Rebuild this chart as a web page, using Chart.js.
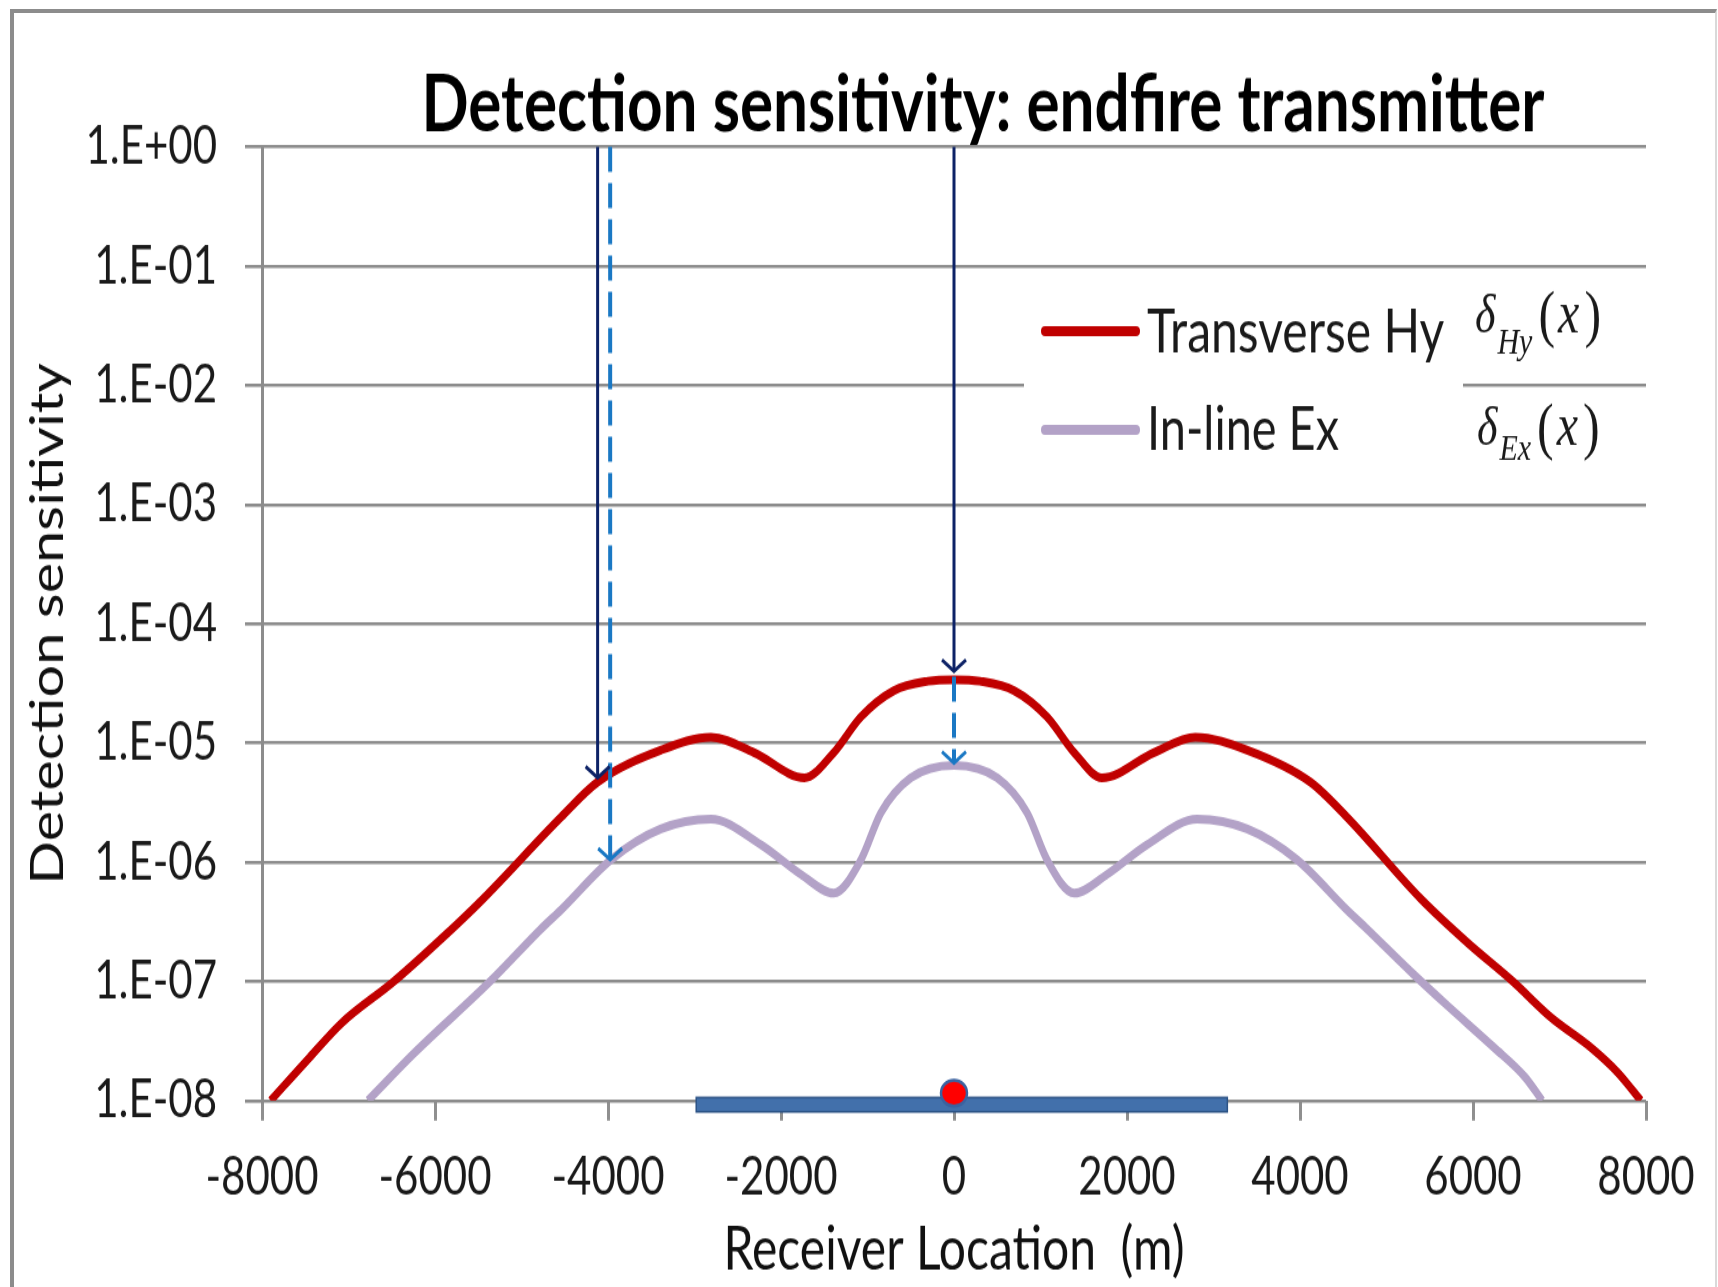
<!DOCTYPE html>
<html>
<head>
<meta charset="utf-8">
<script src="https://cdn.jsdelivr.net/npm/chart.js@4.4.1/dist/chart.umd.min.js"></script>
<style>
  html, body { margin: 0; padding: 0; background: #fff; }
  #wrap { position: relative; width: 1718px; height: 1287px; overflow: hidden; }
  #frame { position: absolute; left: 10px; top: 9px; width: 1707px; height: 1400px; box-sizing: border-box;
           border-top: 4px solid #8c8c8c; border-left: 4px solid #8c8c8c; border-right: 2px solid #d9d9d9; pointer-events: none; }
</style>
</head>
<body>
<div id="wrap">
  <!-- the source picture is stretched vertically, so the canvas is drawn short and shown tall -->
  <canvas id="myChart" width="1718" height="1030" style="display:block;width:1718px;height:1287px"></canvas>
  <div id="frame"></div>
</div>
<script>
var titleText = 'Detection sensitivity: endfire transmitter';
var xAxisTitle = 'Receiver Location  (m)';
var yAxisTitle = 'Detection sensitivity';
var hyLabel = 'Transverse Hy';
var exLabel = 'In-line Ex';

// receiver location (m) and sensitivity
var hyX = [-7900, -7450, -7075, -6475, -5920, -5460, -4540, -4120, -3390, -2810, -2310, -1730, -1390, -1075, -695, -300, 0,
           300, 695, 1075, 1390, 1710, 2310, 2790, 3390, 4120, 4540, 5400, 5940, 6460, 6900, 7360, 7680, 7940];
var hyY = [1.0e-8, 2.3e-8, 4.5e-8, 1.0e-7, 2.3e-7, 4.8e-7, 2.4e-6, 4.7e-6, 8.7e-6, 1.12e-5, 8.3e-6, 5.1e-6, 8.3e-6, 1.66e-5, 2.75e-5, 3.3e-5, 3.4e-5,
           3.3e-5, 2.75e-5, 1.66e-5, 8.3e-6, 5.1e-6, 8.3e-6, 1.12e-5, 8.7e-6, 4.7e-6, 2.4e-6, 4.9e-7, 2.1e-7, 1.0e-7, 5.0e-8, 2.8e-8, 1.7e-8, 1.0e-8];

var exX = [-6775, -6240, -5350, -4775, -4540, -3965, -3390, -2810, -2230, -1770, -1390, -1075, -845, -500, 0,
           500, 845, 1075, 1390, 1770, 2230, 2810, 3390, 3965, 4540, 4775, 5300, 5700, 6240, 6600, 6800];
var exY = [1.0e-8, 2.5e-8, 1.02e-7, 2.75e-7, 4.0e-7, 1.05e-6, 1.9e-6, 2.3e-6, 1.4e-6, 7.9e-7, 5.5e-7, 1.05e-6, 2.6e-6, 5.1e-6, 6.5e-6,
           5.1e-6, 2.6e-6, 1.05e-6, 5.5e-7, 7.9e-7, 1.4e-6, 2.3e-6, 1.9e-6, 1.05e-6, 4.0e-7, 2.75e-7, 1.17e-7, 6.3e-8, 2.8e-8, 1.58e-8, 1.0e-8];

var xTicks = [-8000, -6000, -4000, -2000, 0, 2000, 4000, 6000, 8000];
var yTicks = [1e-8, 1e-7, 1e-6, 1e-5, 1e-4, 1e-3, 1e-2, 1e-1, 1];
var yTickLabels = ['1.E-08', '1.E-07', '1.E-06', '1.E-05', '1.E-04', '1.E-03', '1.E-02', '1.E-01', '1.E+00'];

// arrows: x position, start value, end value
var solidArrowX = [-4120, 0];
var solidArrowFrom = [1, 1];
var solidArrowTo = [5.1e-6, 4.0e-5];
var dashArrowX = [-3975, 0];
var dashArrowFrom = [1, 3.6e-5];
var dashArrowTo = [1.05e-6, 6.8e-6];

// transmitter array on the axis and source point
var cableX = [-2980, 3160];
var sourceX = 0;

var S = 1287 / 1030; // vertical stretch of the shown canvas

function pts(xs, ys) {
  return xs.map(function (x, i) { return { x: x, y: ys[i] }; });
}

function drawArrow(ctx, x, y1, y2, color, width, dash) {
  ctx.save();
  ctx.strokeStyle = color;
  ctx.lineWidth = width;
  ctx.setLineDash(dash);
  ctx.beginPath();
  ctx.moveTo(x, y1);
  ctx.lineTo(x, y2);
  ctx.stroke();
  ctx.setLineDash([]);
  ctx.lineWidth = 3;
  ctx.beginPath();
  ctx.moveTo(x - 12, y2 - 9);
  ctx.lineTo(x, y2);
  ctx.lineTo(x + 12, y2 - 9);
  ctx.stroke();
  ctx.restore();
}

var overlay = {
  id: 'overlay',
  afterDatasetsDraw: function (chart) {
    var ctx = chart.ctx, xs = chart.scales.x, ys = chart.scales.y, area = chart.chartArea;
    var i;

    // cable and source
    ctx.save();
    var c0 = xs.getPixelForValue(cableX[0]), c1 = xs.getPixelForValue(cableX[1]);
    ctx.fillStyle = '#4270ab';
    ctx.strokeStyle = '#2c5386';
    ctx.lineWidth = 1.5;
    ctx.fillRect(c0, area.bottom - 2.5, c1 - c0, 11.5);
    ctx.strokeRect(c0, area.bottom - 2.5, c1 - c0, 11.5);
    var sx = xs.getPixelForValue(sourceX);
    ctx.beginPath();
    ctx.ellipse(sx, area.bottom - 6, 13, 13 / S, 0, 0, Math.PI * 2);
    ctx.fillStyle = '#ff0000';
    ctx.fill();
    ctx.lineWidth = 2.5;
    ctx.strokeStyle = '#3b62a0';
    ctx.stroke();
    ctx.restore();

    // arrows
    for (i = 0; i < dashArrowX.length; i++) {
      drawArrow(ctx, xs.getPixelForValue(dashArrowX[i]), ys.getPixelForValue(dashArrowFrom[i]),
        ys.getPixelForValue(dashArrowTo[i]), '#1a78c4', 4, [20, 9]);
    }
    for (i = 0; i < solidArrowX.length; i++) {
      drawArrow(ctx, xs.getPixelForValue(solidArrowX[i]), ys.getPixelForValue(solidArrowFrom[i]),
        ys.getPixelForValue(solidArrowTo[i]), '#0d2266', 3, []);
    }

    // legend box
    ctx.save();
    ctx.fillStyle = '#ffffff';
    ctx.fillRect(1024, 230, 1463 - 1024, 150);
    ctx.lineCap = 'round';
    ctx.lineWidth = 8;
    ctx.strokeStyle = '#c00000';
    ctx.beginPath(); ctx.moveTo(1045, 265); ctx.lineTo(1136, 265); ctx.stroke();
    ctx.strokeStyle = '#b3a2c7';
    ctx.beginPath(); ctx.moveTo(1045, 344); ctx.lineTo(1136, 344); ctx.stroke();
    ctx.fillStyle = '#1a1a1a';
    ctx.font = '48px Lato';
    ctx.textBaseline = 'alphabetic';
    ctx.textAlign = 'left';
    ctx.fillText(hyLabel, 1147, 281.5, 299);
    ctx.fillText(exLabel, 1147, 360, 192);

    // ratio written over the gridline
    function ratioPart(sub, x, y, subY) {
      ctx.font = 'italic 44px "Liberation Serif"';
      ctx.fillText('\u03b4', x, y);
      var px = x + ctx.measureText('\u03b4').width + 2;
      ctx.font = 'italic 30px "Liberation Serif"';
      ctx.fillText(sub, px, subY);
      px += ctx.measureText(sub).width + 6;
      ctx.font = '50px "Liberation Serif"';
      ctx.fillText('(', px, y + 2);
      px += ctx.measureText('(').width + 3;
      ctx.font = 'italic 48px "Liberation Serif"';
      ctx.fillText('x', px, y);
      px += ctx.measureText('x').width + 5;
      ctx.font = '50px "Liberation Serif"';
      ctx.fillText(')', px, y + 2);
    }
    ratioPart('Hy', 1475, 266, 283);
    ratioPart('Ex', 1477, 356, 368);
    ctx.restore();
  },
  afterDraw: function (chart) {
    var ctx = chart.ctx;
    ctx.save();
    ctx.font = 'bold 63px Lato';
    ctx.fillStyle = '#000';
    ctx.textAlign = 'center';
    ctx.textBaseline = 'alphabetic';
    ctx.fillText(titleText, 983, 105, 1123);
    ctx.restore();
  }
};

var ctx = document.getElementById('myChart').getContext('2d');

var chartData = {
  type: 'line',
  data: {
    datasets: [
      {
        label: hyLabel,
        data: pts(hyX, hyY),
        borderColor: '#c00000',
        borderWidth: 7,
        borderJoinStyle: 'round',
        pointRadius: 0,
        cubicInterpolationMode: 'monotone',
        fill: false,
        clip: { left: 5, right: 5, top: 5, bottom: 0 },
      },
      {
        label: exLabel,
        data: pts(exX, exY),
        borderColor: '#b3a2c7',
        borderWidth: 7,
        borderJoinStyle: 'round',
        pointRadius: 0,
        cubicInterpolationMode: 'monotone',
        fill: false,
        clip: { left: 5, right: 5, top: 5, bottom: 0 },
      },
    ],
  },
  options: {
    responsive: false,
    animation: false,
    layout: { padding: { left: 12, right: 72, top: 117.6, bottom: 0 } },
    plugins: {
      legend: { display: false },
      title: { display: false },
      tooltip: { enabled: false },
    },
    scales: {
      x: {
        type: 'linear',
        min: -8000,
        max: 8000,
        afterBuildTicks: function (scale) {
          scale.ticks = xTicks.map(function (v) { return { value: v }; });
        },
        afterFit: function (scale) { scale.height = 149.2; },
        ticks: {
          callback: function (v) { return String(v); },
          font: { family: 'Lato', size: 42 },
          color: '#1a1a1a',
          padding: 20,
          maxRotation: 0,
          autoSkip: false,
        },
        grid: { drawOnChartArea: false, drawTicks: true, tickLength: 16, tickColor: '#8f8f8f', tickWidth: 3 },
        border: { display: false },
        title: {
          display: true,
          text: xAxisTitle,
          font: { family: 'Lato', size: 48 },
          color: '#111',
          padding: { top: 0, bottom: 1 },
        },
      },
      y: {
        type: 'logarithmic',
        min: 1e-8,
        max: 1,
        afterBuildTicks: function (scale) {
          scale.ticks = yTicks.map(function (v) { return { value: v }; });
        },
        afterFit: function (scale) { scale.width = 250; },
        ticks: {
          callback: function (v, i) {
            var k = yTicks.indexOf(v);
            return k >= 0 ? yTickLabels[k] : yTickLabels[i];
          },
          font: { family: 'Lato', size: 42 },
          color: '#1a1a1a',
          padding: 28,
        },
        grid: { color: '#8c8c8c', lineWidth: 2.6, drawTicks: true, tickLength: 17, tickColor: '#8c8c8c', tickWidth: 2.6 },
        border: { display: true, color: '#8c8c8c', width: 3 },
        title: {
          display: true,
          text: yAxisTitle,
          font: { family: 'Lato', size: 46 },
          color: '#111',
          padding: { top: 9, bottom: 0 },
        },
      },
    },
  },
  plugins: [overlay],
};

var myChart = new Chart(ctx, chartData);
</script>
</body>
</html>
